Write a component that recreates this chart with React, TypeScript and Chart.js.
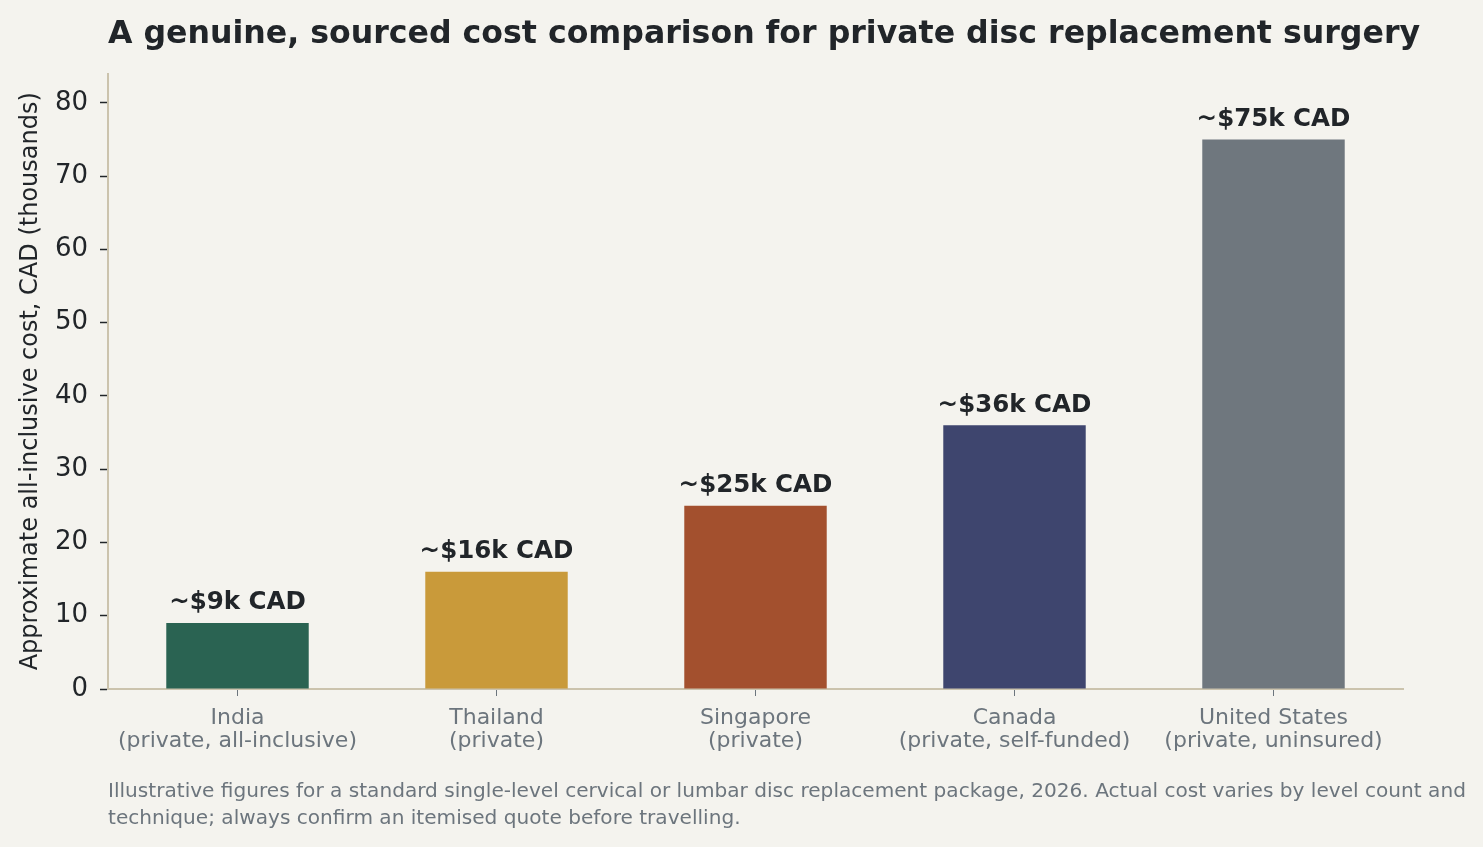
import { useEffect, useRef } from "react"
import { Chart, registerables } from "chart.js"

Chart.register(...registerables)

const countries = ["India", "Thailand", "Singapore", "Canada", "United States"]
const subLabels = [
  "(private, all-inclusive)",
  "(private)",
  "(private)",
  "(private, self-funded)",
  "(private, uninsured)",
]
const costs = [9, 16, 25, 36, 75]
const valueLabels = ["~$9k CAD", "~$16k CAD", "~$25k CAD", "~$36k CAD", "~$75k CAD"]
const barColors = ["#2a6352", "#c99a3a", "#a3502e", "#3e456e", "#6f777e"]
const yTicks = [0, 10, 20, 30, 40, 50, 60, 70, 80]

const titleText = "A genuine, sourced cost comparison for private disc replacement surgery"
const noteLines = [
  "Illustrative figures for a standard single-level cervical or lumbar disc replacement package, 2026. Actual cost varies by level count and",
  "technique; always confirm an itemised quote before travelling.",
]

const FONT = "'DejaVu Sans', sans-serif"
const DARK = "#212529"
const GREY = "#6c757d"
const SPINE = "#cbc3ad"
const BG = "#f4f3ee"

// bar value labels + title + footnote
const annotate = {
  id: "annotate",
  afterDatasetsDraw(chart: Chart) {
    const ctx = chart.ctx
    const meta = chart.getDatasetMeta(0)
    ctx.save()
    ctx.fillStyle = DARK
    ctx.font = `bold 24.5px ${FONT}`
    ctx.textAlign = "center"
    ctx.textBaseline = "middle"
    meta.data.forEach((bar: any, i: number) => {
      ctx.fillText(valueLabels[i], bar.x, bar.y - 20)
    })
    ctx.restore()
  },
  afterDraw(chart: Chart) {
    const ctx = chart.ctx
    const left = chart.chartArea.left
    ctx.save()
    ctx.textAlign = "left"
    ctx.textBaseline = "middle"
    ctx.fillStyle = DARK
    ctx.font = `bold 31.6px ${FONT}`
    ctx.fillText(titleText, left, 34.5)
    ctx.fillStyle = GREY
    ctx.font = `20.1px ${FONT}`
    noteLines.forEach((line, i) => ctx.fillText(line, left, 791.5 + i * 27))
    ctx.restore()
  },
}

function CostChart() {
  const canvasRef = useRef<HTMLCanvasElement>(null)
  const chartRef = useRef<Chart | null>(null)

  useEffect(() => {
    if (!canvasRef.current) return
    const ctx = canvasRef.current.getContext("2d")
    if (!ctx) return
    if (chartRef.current) chartRef.current.destroy()

    chartRef.current = new Chart(ctx, {
      type: "bar",
      data: {
        labels: countries.map((c, i) => [c, subLabels[i]]),
        datasets: [
          {
            data: costs,
            backgroundColor: barColors,
            borderWidth: 0,
            categoryPercentage: 1,
            barPercentage: 0.55,
          },
        ],
      },
      options: {
        responsive: true,
        maintainAspectRatio: false,
        animation: false,
        layout: { padding: { top: 73.5, left: 8, right: 80, bottom: 0 } },
        plugins: {
          legend: { display: false },
          tooltip: { enabled: false },
        },
        scales: {
          x: {
            afterFit: (scale: any) => {
              scale.height = 158
            },
            grid: {
              drawOnChartArea: false,
              offset: false,
              tickLength: 7,
              tickColor: GREY,
            },
            border: { color: SPINE, width: 2 },
            ticks: {
              color: GREY,
              font: { family: FONT, size: 22, lineHeight: 1.05 },
              padding: 11,
              maxRotation: 0,
              autoSkip: false,
            },
          },
          y: {
            min: 0,
            max: 84,
            afterFit: (scale: any) => {
              scale.width = 100
            },
            afterBuildTicks: (scale: any) => {
              scale.ticks = yTicks.map((v) => ({ value: v }))
            },
            grid: {
              drawOnChartArea: false,
              tickLength: 8,
              tickColor: DARK,
              tickWidth: 1.5,
            },
            border: { color: SPINE, width: 2 },
            ticks: {
              autoSkip: false,
              color: DARK,
              font: { family: FONT, size: 26 },
              padding: 12,
            },
            title: {
              display: true,
              text: "Approximate all-inclusive cost, CAD (thousands)",
              color: DARK,
              font: { family: FONT, size: 24 },
              padding: { top: 8, bottom: 0 },
            },
          },
        },
      },
      plugins: [annotate],
    })

    return () => {
      if (chartRef.current) {
        chartRef.current.destroy()
        chartRef.current = null
      }
    }
  }, [])

  return (
    <div style={{ position: "absolute", left: 0, top: 0, width: 1483, height: 847, background: BG }}>
      <canvas ref={canvasRef}></canvas>
    </div>
  )
}

export default function App() {
  return <CostChart />
}
